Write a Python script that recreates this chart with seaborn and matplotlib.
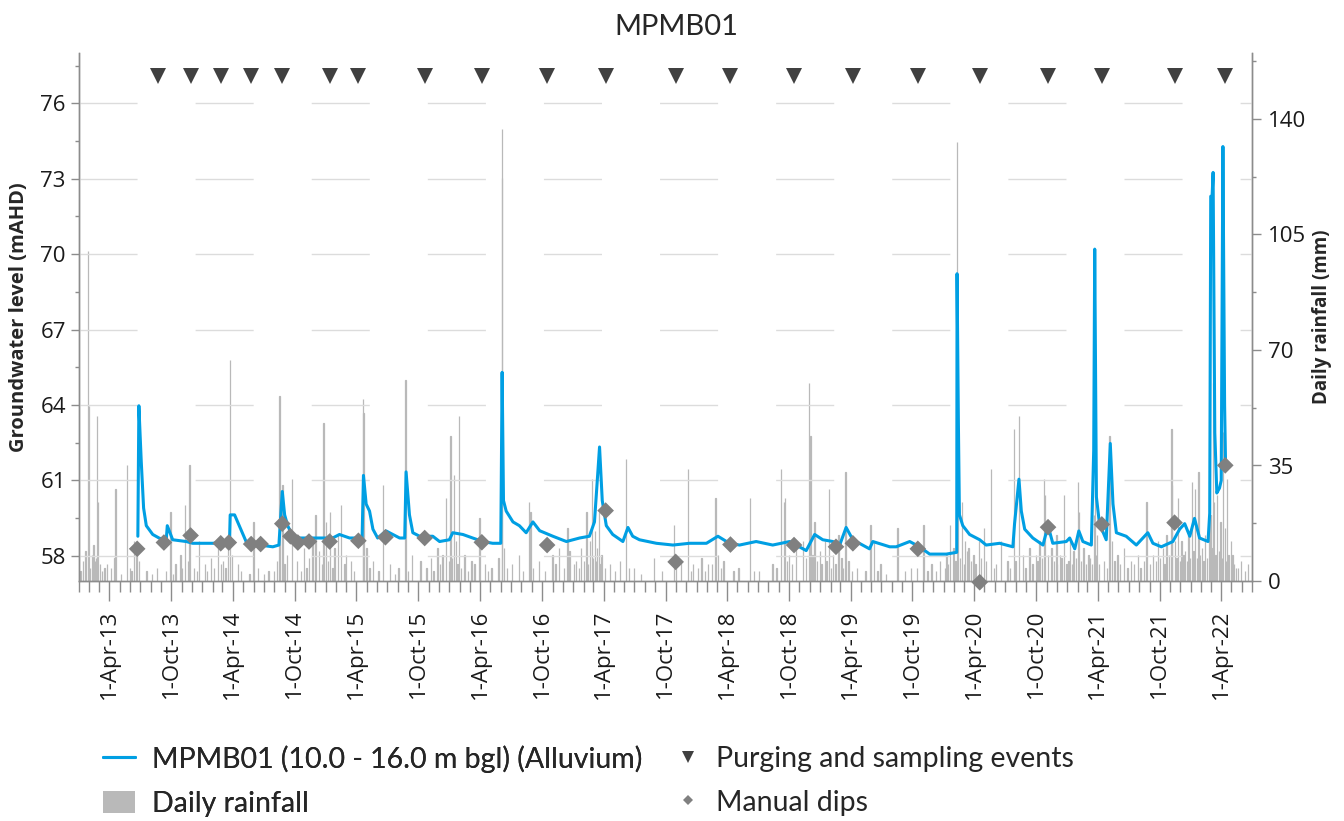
import numpy as np
import pandas as pd
import matplotlib
matplotlib.use("Agg")
import matplotlib.pyplot as plt
import matplotlib.dates as mdates
from matplotlib.ticker import FixedLocator
from matplotlib.lines import Line2D
from matplotlib.patches import Patch
import seaborn as sns

# ---------------- data ----------------
gw_dates = [
    "2013-06-24", "2013-06-27", "2013-07-04", "2013-07-11", "2013-07-19", "2013-08-07",
    "2013-08-27", "2013-09-16", "2013-09-19", "2013-10-05", "2013-11-14", "2013-12-03",
    "2014-02-01", "2014-03-22", "2014-03-24", "2014-04-06", "2014-05-10", "2014-06-19",
    "2014-07-28", "2014-08-15", "2014-08-25", "2014-09-01", "2014-09-10", "2014-09-25",
    "2014-10-15", "2014-12-03", "2015-01-21", "2015-02-10", "2015-03-12", "2015-04-18",
    "2015-04-22", "2015-04-30", "2015-05-10", "2015-05-20", "2015-06-03", "2015-06-28",
    "2015-07-18", "2015-08-07", "2015-08-22", "2015-08-26", "2015-09-05", "2015-09-15",
    "2015-10-05", "2015-11-13", "2015-12-03", "2016-01-01", "2016-01-11", "2016-02-10",
    "2016-03-10", "2016-04-09", "2016-05-08", "2016-06-01", "2016-06-05", "2016-06-09",
    "2016-06-17", "2016-07-07", "2016-07-26", "2016-08-15", "2016-09-04", "2016-09-24",
    "2016-11-02", "2016-12-12", "2017-01-20", "2017-02-18", "2017-03-05", "2017-03-20",
    "2017-03-28", "2017-04-09", "2017-04-28", "2017-05-28", "2017-06-12", "2017-06-26",
    "2017-07-16", "2017-09-04", "2017-10-23", "2017-12-11", "2018-01-30", "2018-03-05",
    "2018-04-08", "2018-05-08", "2018-06-26", "2018-08-14", "2018-10-03", "2018-11-21",
    "2018-12-16", "2019-01-09", "2019-02-08", "2019-02-28", "2019-03-19", "2019-04-08",
    "2019-05-27", "2019-06-06", "2019-07-26", "2019-08-14", "2019-09-23", "2019-10-22",
    "2019-11-21", "2020-01-09", "2020-02-09", "2020-02-10", "2020-02-14", "2020-02-17",
    "2020-02-27", "2020-03-18", "2020-04-17", "2020-05-06", "2020-06-15", "2020-07-24",
    "2020-07-29", "2020-08-11", "2020-08-18", "2020-08-28", "2020-09-21", "2020-10-21",
    "2020-11-05", "2020-11-19", "2020-12-29", "2021-01-08", "2021-01-23", "2021-02-04",
    "2021-02-16", "2021-03-13", "2021-03-20", "2021-03-23", "2021-03-28", "2021-04-06",
    "2021-04-26", "2021-05-08", "2021-05-16", "2021-05-26", "2021-06-24", "2021-07-24",
    "2021-08-27", "2021-09-11", "2021-10-06", "2021-11-09", "2021-11-29", "2021-12-14",
    "2021-12-29", "2022-01-12", "2022-01-27", "2022-02-21", "2022-02-26", "2022-03-01",
    "2022-03-05", "2022-03-08", "2022-03-13", "2022-03-19", "2022-03-27", "2022-04-01",
    "2022-04-06", "2022-04-11", "2022-04-14",
]
gw_level = [
    58.78, 63.97, 61.76, 59.90, 59.20, 58.85,
    58.70, 58.64, 59.20, 58.64, 58.57, 58.50,
    58.50, 58.57, 59.63, 59.63, 58.57, 58.43,
    58.36, 58.43, 60.56, 59.63, 59.20, 58.78,
    58.71, 58.71, 58.71, 58.85, 58.71, 58.71,
    61.20, 60.06, 59.78, 59.06, 58.71, 58.99,
    58.85, 58.71, 58.71, 61.34, 59.63, 58.92,
    58.78, 58.78, 58.57, 58.64, 58.92, 58.85,
    58.71, 58.57, 58.50, 58.50, 65.30, 60.20,
    59.78, 59.35, 59.20, 58.92, 59.35, 59.00,
    58.78, 58.57, 58.71, 58.78, 59.35, 62.33,
    60.20, 59.20, 58.85, 58.57, 59.13, 58.78,
    58.64, 58.50, 58.43, 58.50, 58.50, 58.78,
    58.50, 58.43, 58.57, 58.43, 58.57, 58.21,
    58.85, 58.64, 58.57, 58.43, 59.13, 58.64,
    58.28, 58.57, 58.36, 58.36, 58.57, 58.36,
    58.07, 58.07, 58.14, 69.22, 63.18, 59.63,
    59.20, 58.85, 58.64, 58.43, 58.50, 58.36,
    59.28, 61.05, 59.78, 59.06, 58.71, 58.43,
    59.20, 58.50, 58.57, 58.71, 58.28, 58.99,
    58.57, 58.43, 62.19, 70.20, 60.34, 59.28,
    58.64, 62.47, 60.06, 58.92, 58.78, 58.43,
    58.92, 58.50, 58.36, 58.57, 59.06, 59.28,
    58.78, 59.49, 58.71, 58.57, 59.70, 72.30,
    72.30, 73.25, 62.90, 60.50, 60.70, 61.00,
    74.28, 64.00, 61.50,
]

# heavier falls
rain_dates = [
    "2013-01-27", "2013-01-30", "2013-02-08", "2013-02-13", "2013-02-17", "2013-02-23",
    "2013-02-26", "2013-03-04", "2013-03-17", "2013-04-06", "2013-04-16", "2013-04-19",
    "2013-05-22", "2013-05-31", "2013-06-12", "2013-06-20", "2013-06-28", "2013-07-20",
    "2013-08-19", "2013-09-29", "2013-10-13", "2013-10-28", "2013-11-11", "2013-11-19",
    "2013-11-24", "2013-12-07", "2013-12-22", "2014-01-08", "2014-01-26", "2014-02-15",
    "2014-03-02", "2014-03-17", "2014-03-24", "2014-03-29", "2014-04-16", "2014-06-01",
    "2014-06-15", "2014-07-15", "2014-08-09", "2014-08-17", "2014-08-26", "2014-09-08",
    "2014-09-23", "2014-10-08", "2014-10-28", "2014-11-12", "2014-11-22", "2014-12-01",
    "2014-12-12", "2014-12-25", "2015-01-01", "2015-01-13", "2015-01-26", "2015-02-05",
    "2015-02-15", "2015-03-02", "2015-03-17", "2015-04-20", "2015-04-22", "2015-05-01",
    "2015-05-21", "2015-06-18", "2015-07-10", "2015-08-04", "2015-08-24", "2015-09-13",
    "2015-10-08", "2015-11-07", "2015-11-27", "2015-12-12", "2015-12-23", "2016-01-04",
    "2016-01-14", "2016-01-21", "2016-01-29", "2016-02-15", "2016-03-06", "2016-03-30",
    "2016-04-15", "2016-05-05", "2016-05-25", "2016-06-04", "2016-06-05", "2016-06-10",
    "2016-07-04", "2016-07-24", "2016-08-23", "2016-08-28", "2016-09-22", "2016-11-01",
    "2016-11-21", "2016-12-15", "2016-12-21", "2017-01-10", "2017-01-25", "2017-02-09",
    "2017-02-19", "2017-02-26", "2017-03-06", "2017-03-13", "2017-03-19", "2017-03-26",
    "2017-04-20", "2017-05-20", "2017-06-07", "2017-06-29", "2017-08-28", "2017-10-26",
    "2017-11-16", "2017-12-06", "2017-12-21", "2018-01-15", "2018-02-04", "2018-02-26",
    "2018-03-06", "2018-03-21", "2018-05-05", "2018-06-07", "2018-07-04", "2018-08-13",
    "2018-09-08", "2018-09-16", "2018-09-20", "2018-10-02", "2018-10-22", "2018-11-11",
    "2018-11-29", "2018-12-04", "2018-12-16", "2018-12-31", "2019-01-15", "2019-01-27",
    "2019-02-09", "2019-02-24", "2019-03-17", "2019-03-26", "2019-04-20", "2019-05-30",
    "2019-06-09", "2019-06-29", "2019-08-18", "2019-09-27", "2019-11-03", "2019-11-26",
    "2019-12-21", "2020-01-10", "2020-01-21", "2020-01-30", "2020-02-10", "2020-02-12",
    "2020-02-24", "2020-03-05", "2020-03-15", "2020-03-30", "2020-04-14", "2020-04-29",
    "2020-05-21", "2020-06-18", "2020-07-08", "2020-07-27", "2020-08-11", "2020-08-22",
    "2020-09-11", "2020-10-01", "2020-10-11", "2020-10-24", "2020-10-27", "2020-11-15",
    "2020-11-30", "2020-12-10", "2020-12-22", "2021-01-09", "2021-01-19", "2021-02-01",
    "2021-02-04", "2021-02-18", "2021-03-05", "2021-03-20", "2021-03-23", "2021-03-30",
    "2021-04-19", "2021-05-06", "2021-05-14", "2021-05-29", "2021-06-18", "2021-07-08",
    "2021-07-28", "2021-08-23", "2021-09-11", "2021-09-26", "2021-10-11", "2021-10-21",
    "2021-11-05", "2021-11-07", "2021-11-15", "2021-11-25", "2021-12-05", "2021-12-15",
    "2021-12-25", "2022-01-05", "2022-01-14", "2022-01-24", "2022-02-03", "2022-02-13",
    "2022-02-23", "2022-02-28", "2022-03-07", "2022-03-11", "2022-03-20", "2022-03-30",
    "2022-04-07", "2022-04-12", "2022-04-19", "2022-04-29", "2022-05-04", "2022-05-14",
    "2022-05-29",
]
rain_mm = [
    100, 53, 8, 11, 6, 50,
    24, 5, 4, 4, 7, 28,
    35, 4, 12, 8, 6, 3,
    4, 21, 5, 8, 23, 6,
    35, 4, 12, 5, 7, 10,
    6, 12, 67, 8, 5, 18,
    4, 3, 6, 56, 29, 8,
    31, 6, 10, 7, 12, 20,
    9, 48, 18, 21, 10, 14,
    23, 8, 6, 55, 51, 10,
    6, 29, 5, 4, 61, 8,
    6, 7, 10, 8, 25, 44,
    32, 12, 50, 8, 6, 19,
    5, 4, 7, 137, 122, 10,
    5, 8, 24, 21, 6, 8,
    10, 16, 9, 6, 10, 21,
    12, 31, 15, 10, 21, 8,
    5, 6, 37, 4, 7, 17,
    6, 34, 5, 7, 5, 25,
    8, 6, 4, 25, 3, 5,
    34, 24, 25, 8, 10, 12,
    60, 44, 18, 9, 12, 28,
    8, 14, 33, 6, 4, 17,
    12, 5, 16, 4, 17, 5,
    6, 8, 17, 10, 133, 20,
    24, 12, 10, 8, 12, 16,
    34, 12, 6, 46, 50, 8,
    10, 8, 12, 31, 26, 10,
    14, 8, 26, 12, 9, 30,
    21, 10, 8, 20, 40, 14,
    6, 44, 12, 8, 10, 6,
    8, 24, 8, 12, 10, 14,
    46, 29, 12, 25, 12, 9,
    14, 30, 28, 33, 10, 14,
    18, 20, 60, 24, 26, 18,
    45, 16, 31, 12, 8, 4,
    6,
]

# light falls
light_rain_dates = [
    "2013-01-05", "2013-01-12", "2013-01-20", "2013-02-02", "2013-02-20", "2013-03-10",
    "2013-03-25", "2013-05-05", "2013-06-05", "2013-08-05", "2013-09-15", "2013-10-05",
    "2013-11-02", "2013-12-15", "2014-01-15", "2014-02-05", "2014-02-25", "2014-03-10",
    "2014-04-25", "2014-05-20", "2014-07-01", "2014-08-01", "2014-09-01", "2014-10-20",
    "2014-11-05", "2014-12-20", "2015-01-08", "2015-01-20", "2015-02-25", "2015-03-25",
    "2015-05-10", "2015-06-05", "2015-07-25", "2015-09-01", "2015-10-25", "2015-11-15",
    "2015-12-05", "2015-12-30", "2016-01-09", "2016-01-25", "2016-02-05", "2016-02-25",
    "2016-03-15", "2016-04-25", "2016-06-20", "2016-08-05", "2016-09-05", "2016-10-10",
    "2016-11-10", "2016-12-05", "2017-01-03", "2017-01-18", "2017-02-03", "2017-02-14",
    "2017-03-01", "2017-03-09", "2017-03-23", "2017-04-05", "2017-05-05", "2017-06-15",
    "2017-07-20", "2017-09-20", "2017-11-01", "2017-12-15", "2018-01-05", "2018-01-25",
    "2018-02-15", "2018-03-15", "2018-04-20", "2018-06-20", "2018-08-25", "2018-09-25",
    "2018-10-10", "2018-11-20", "2018-12-10", "2018-12-22", "2019-01-05", "2019-01-20",
    "2019-02-02", "2019-02-16", "2019-03-05", "2019-03-10", "2019-04-05", "2019-05-15",
    "2019-06-20", "2019-07-15", "2019-09-10", "2019-10-15", "2019-11-15", "2019-12-10",
    "2020-01-05", "2020-01-15", "2020-02-05", "2020-02-18", "2020-03-01", "2020-03-10",
    "2020-03-22", "2020-04-05", "2020-04-20", "2020-05-05", "2020-05-30", "2020-06-05",
    "2020-07-15", "2020-08-01", "2020-08-30", "2020-09-20", "2020-10-05", "2020-10-18",
    "2020-11-05", "2020-11-22", "2020-12-02", "2020-12-15", "2020-12-30", "2021-01-04",
    "2021-01-14", "2021-01-27", "2021-02-10", "2021-02-26", "2021-03-10", "2021-03-15",
    "2021-03-26", "2021-04-05", "2021-04-28", "2021-05-20", "2021-06-05", "2021-06-28",
    "2021-07-18", "2021-08-05", "2021-08-15", "2021-09-02", "2021-09-20", "2021-10-02",
    "2021-10-15", "2021-10-28", "2021-11-20", "2021-11-30", "2021-12-10", "2021-12-20",
    "2021-12-30", "2022-01-09", "2022-01-19", "2022-01-29", "2022-02-08", "2022-02-18",
    "2022-03-03", "2022-03-15", "2022-03-25", "2022-04-03", "2022-04-16", "2022-04-23",
    "2022-05-08", "2022-05-20", "2022-06-10", "2022-06-20",
]
light_rain_mm = [
    3, 6, 9, 4, 7, 3,
    5, 2, 3, 2, 3, 2,
    4, 3, 3, 4, 5, 4,
    3, 2, 2, 3, 5, 3,
    4, 5, 6, 4, 5, 3,
    4, 3, 2, 3, 4, 3,
    5, 6, 7, 5, 4, 3,
    5, 3, 4, 3, 4, 3,
    5, 4, 5, 4, 6, 5,
    7, 6, 5, 4, 3, 4,
    2, 3, 4, 3, 4, 3,
    5, 4, 3, 3, 4, 6,
    5, 7, 8, 6, 5, 6,
    4, 5, 7, 4, 3, 3,
    3, 2, 3, 4, 3, 3,
    4, 5, 6, 7, 5, 9,
    6, 5, 7, 6, 4, 5,
    4, 6, 4, 5, 6, 7,
    8, 6, 5, 7, 5, 6,
    5, 7, 6, 5, 7, 5,
    8, 5, 4, 6, 5, 4,
    5, 4, 6, 5, 6, 7,
    5, 8, 7, 6, 8, 6,
    7, 9, 7, 8, 6, 7,
    10, 8, 9, 7, 6, 8,
    5, 4, 3, 5,
]

event_dates = [
    "2013-08-22", "2013-11-27", "2014-02-24", "2014-05-25", "2014-08-25", "2015-01-12",
    "2015-04-07", "2015-10-20", "2016-04-06", "2016-10-16", "2017-04-07", "2017-10-31",
    "2018-04-11", "2018-10-16", "2019-04-08", "2019-10-17", "2020-04-17", "2020-11-05",
    "2021-04-13", "2021-11-14", "2022-04-13",
]

dip_dates = [
    "2013-06-22", "2013-09-09", "2013-11-27", "2014-02-24", "2014-03-20", "2014-05-25",
    "2014-06-22", "2014-08-25", "2014-09-18", "2014-10-10", "2014-11-12", "2015-01-12",
    "2015-04-07", "2015-06-26", "2015-10-20", "2016-04-06", "2016-10-16", "2017-04-07",
    "2017-10-31", "2018-04-11", "2018-10-16", "2019-02-17", "2019-04-08", "2019-10-17",
    "2020-04-17", "2020-11-05", "2021-04-13", "2021-11-14", "2022-04-13",
]
dip_level = [
    58.28, 58.53, 58.81, 58.50, 58.53, 58.47,
    58.47, 59.28, 58.78, 58.53, 58.57, 58.57,
    58.60, 58.74, 58.71, 58.54, 58.43, 59.80,
    57.76, 58.45, 58.43, 58.36, 58.50, 58.28,
    56.95, 59.14, 59.25, 59.32, 61.60,
]

series_label = "MPMB01 (10.0 - 16.0 m bgl) (Alluvium)"
rain_label = "Daily rainfall"
event_label = "Purging and sampling events"
dip_label = "Manual dips"
title_text = "MPMB01"
left_ticks = [58, 61, 64, 67, 70, 73, 76]
right_ticks = [0, 35, 70, 105, 140]

# ---------------- styling ----------------
BLUE = "#009FE3"
RAIN = "#B9B9B9"
TRI = "#404040"
DIA = "#808080"
SPINE = "#8C8C8C"
GRID = "#DCDCDC"

sns.set_theme(style="white")
plt.rcParams["font.family"] = ["Open Sans", "DejaVu Sans"]

W, H = 1344, 821
fig = plt.figure(figsize=(W / 100, H / 100), dpi=100)
left, right, top, bottom = 79, 1252, 53, 581
ax = fig.add_axes([left / W, 1 - bottom / H, (right - left) / W, (bottom - top) / H])
ax2 = ax.twinx()
ax.set_zorder(ax2.get_zorder() + 1)
ax.patch.set_visible(False)

gw = pd.DataFrame({"date": pd.to_datetime(gw_dates), "level": gw_level})
rain = pd.concat([
    pd.DataFrame({"date": pd.to_datetime(rain_dates), "mm": rain_mm}),
    pd.DataFrame({"date": pd.to_datetime(light_rain_dates), "mm": light_rain_mm}),
]).sort_values("date")
events = pd.to_datetime(event_dates)
dips = pd.DataFrame({"date": pd.to_datetime(dip_dates), "level": dip_level})

# daily rainfall on the right-hand axis
ax2.bar(rain["date"], rain["mm"], width=1.0, color=RAIN, edgecolor=RAIN,
        linewidth=0.9, zorder=1)

# groundwater hydrograph
sns.lineplot(data=gw, x="date", y="level", ax=ax, color=BLUE, linewidth=2.2,
             legend=False, zorder=3)

# manual dips
sns.scatterplot(data=dips, x="date", y="level", ax=ax, marker="D", s=72,
                color=DIA, edgecolor="none", linewidth=0, zorder=4,
                clip_on=False, legend=False)

# purging / sampling events across the top of the plot
ax.plot(events, np.full(len(events), 0.957), transform=ax.get_xaxis_transform(),
        linestyle="none", marker="v", markersize=11.5, color=TRI,
        markeredgewidth=0, zorder=5)

# axes limits and ticks
ax.set_xlim(pd.Timestamp("2013-01-01"), pd.Timestamp("2022-07-01"))
ax.set_ylim(57, 78)
ax2.set_ylim(0, 160)

ax.xaxis.set_major_locator(mdates.MonthLocator(bymonth=[4, 10], bymonthday=1))
ax.xaxis.set_minor_locator(mdates.MonthLocator())
ax.xaxis.set_major_formatter(mdates.DateFormatter("%-d-%b-%y"))
ax.set_yticks(left_ticks)
ax.yaxis.set_minor_locator(FixedLocator(np.arange(59.5, 78, 3)))
ax2.set_yticks(right_ticks)
ax2.yaxis.set_minor_locator(FixedLocator(np.arange(17.5, 160, 35)))

for a in (ax, ax2):
    for s in a.spines.values():
        s.set_color(SPINE)
        s.set_linewidth(1.0)
    a.spines["top"].set_visible(False)

ax.tick_params(axis="x", which="major", direction="out", length=14.5, width=1,
               color=SPINE, labelsize=16, pad=6, labelrotation=90, bottom=True,
               labelcolor="#1a1a1a")
ax.tick_params(axis="x", which="minor", direction="out", length=8, width=1,
               color=SPINE, bottom=True)
ax.tick_params(axis="y", which="major", direction="out", length=5.5, width=1,
               color=SPINE, labelsize=16, pad=4, left=True, labelcolor="#1a1a1a")
ax.tick_params(axis="y", which="minor", direction="out", length=2.8, width=1,
               color=SPINE, left=True)
ax2.tick_params(axis="y", which="major", direction="out", length=6.5, width=1,
                color=SPINE, labelsize=16, pad=5, right=True, labelcolor="#1a1a1a")
ax2.tick_params(axis="y", which="minor", direction="out", length=3, width=1,
                color=SPINE, right=True)
for lab in ax.get_xticklabels():
    lab.set_ha("center")

ax.yaxis.grid(True, which="major", color=GRID, linewidth=1.0,
              linestyle=(0, (41.8, 41.8)))
ax.xaxis.grid(False)
ax2.grid(False)

ax.set_xlabel("")
ax.set_ylabel("Groundwater level (mAHD)", fontsize=14.5, fontweight="bold")
ax.yaxis.set_label_coords((29 - left) / (right - left), 0.5)
ax2.set_ylabel("Daily rainfall (mm)", fontsize=13.5, fontweight="bold")
ax2.yaxis.set_label_coords((1312 - left) / (right - left), 0.5)

fig.text(676 / W, 1 - 35 / H, title_text, ha="center", va="baseline",
         fontsize=21, family=["Lato", "DejaVu Sans"])

# legend in two columns beneath the plot
leg_font = {"family": ["Lato", "DejaVu Sans"], "size": 20.5}
h1 = [Line2D([], [], color=BLUE, linewidth=2.2),
      Patch(facecolor=RAIN, edgecolor="none")]
h2 = [Line2D([], [], linestyle="none", marker="v", markersize=8.5, color=TRI,
             markeredgewidth=0),
      Line2D([], [], linestyle="none", marker="D", markersize=5.5, color=DIA,
             markeredgewidth=0)]
leg1 = fig.legend(h1, [series_label, rain_label], loc="center left",
                  bbox_to_anchor=(103 / W, 1 - 781 / H), frameon=False,
                  prop=leg_font, handlelength=1.12, handleheight=0.85,
                  handletextpad=0.6, labelspacing=0.62, borderpad=0,
                  borderaxespad=0)
leg2 = fig.legend(h2, [event_label, dip_label], loc="center left",
                  bbox_to_anchor=(672 / W, 1 - 781 / H), frameon=False,
                  prop=leg_font, handlelength=1.12, handleheight=0.85,
                  handletextpad=0.42, labelspacing=0.62, borderpad=0,
                  borderaxespad=0)
fig.add_artist(leg1)

fig.savefig("out.png", dpi=100)
